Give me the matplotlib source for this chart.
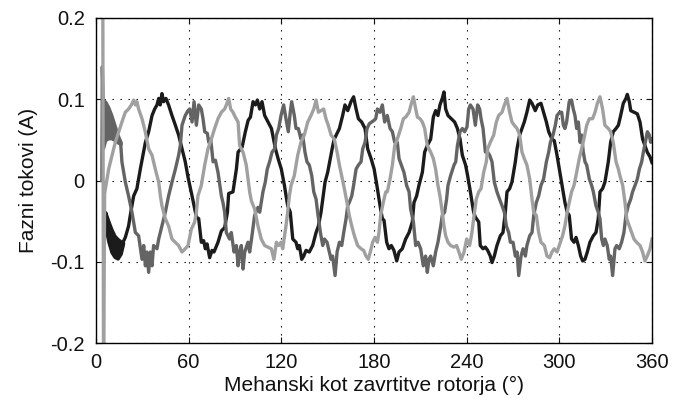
import matplotlib
matplotlib.use("Agg")
import matplotlib.pyplot as plt
import numpy as np

plt.rcParams["font.family"] = ["Liberation Sans", "DejaVu Sans"]

# phase currents (mechanical angle in degrees, current in A)
phase_black = [
    (17.5, -0.076), (19.0, -0.070), (21.1, -0.056), (22.9, -0.035), (24.4, -0.019), (26.5, -0.010),
    (28.7, 0.014), (29.8, 0.025), (32.0, 0.047), (34.1, 0.060), (36.3, 0.080), (38.0, 0.088),
    (39.5, 0.093), (40.6, 0.101), (41.6, 0.093), (42.7, 0.107), (43.8, 0.097), (45.3, 0.101),
    (47.0, 0.093), (49.2, 0.080), (51.4, 0.068), (53.5, 0.056), (55.7, 0.039), (57.8, 0.023),
    (59.6, 0.004), (62.2, -0.019), (65.0, -0.045), (66.5, -0.047), (68.2, -0.076), (69.7, -0.074),
    (70.8, -0.084), (71.9, -0.078), (73.6, -0.095), (75.1, -0.086), (76.4, -0.088), (79.0, -0.076),
    (81.2, -0.062), (83.3, -0.058), (85.1, -0.039), (85.9, -0.016), (88.7, -0.014), (90.9, 0.014),
    (92.0, 0.035), (94.6, 0.041), (96.7, 0.060), (98.5, 0.074), (100.0, 0.078), (101.7, 0.097),
    (103.2, 0.093), (104.5, 0.099), (106.0, 0.088), (107.5, 0.097), (109.2, 0.080), (111.4, 0.072),
    (113.6, 0.064), (116.2, 0.039), (117.9, 0.027), (120.0, 0.014), (122.0, -0.006), (124.1, -0.031),
    (125.8, -0.039), (127.4, -0.072), (129.5, -0.076), (130.6, -0.084), (131.7, -0.080), (133.2, -0.097),
    (134.5, -0.093), (136.0, -0.086), (138.1, -0.088), (140.3, -0.080), (142.5, -0.064), (144.0, -0.056),
    (145.7, -0.039), (146.8, -0.023), (148.3, -0.002), (150.0, 0.010), (151.7, 0.027), (153.3, 0.043),
    (154.3, 0.051), (156.1, 0.058), (157.6, 0.064), (159.7, 0.080), (161.2, 0.093), (163.0, 0.086),
    (165.1, 0.097), (166.8, 0.103), (168.4, 0.088), (169.9, 0.076), (172.0, 0.072), (174.2, 0.064),
    (175.9, 0.039), (178.1, 0.027), (180.1, 0.014), (182.2, -0.010), (183.9, -0.031), (185.4, -0.047),
    (186.5, -0.049), (188.2, -0.076), (189.7, -0.084), (191.2, -0.080), (192.9, -0.086), (194.7, -0.099),
    (196.2, -0.088), (198.3, -0.084), (200.5, -0.072), (202.7, -0.064), (204.8, -0.051), (205.9, -0.027),
    (207.6, -0.019), (209.1, -0.006), (211.3, 0.010), (212.8, 0.035), (214.5, 0.043), (216.7, 0.051),
    (218.4, 0.078), (219.9, 0.086), (221.4, 0.080), (222.7, 0.093), (224.2, 0.101), (225.3, 0.109),
    (226.4, 0.088), (227.9, 0.080), (230.1, 0.076), (232.2, 0.072), (234.0, 0.064), (235.7, 0.051),
    (237.2, 0.031), (239.3, 0.019), (240.6, 0.006), (242.4, -0.014), (244.5, -0.039), (245.6, -0.045),
    (247.8, -0.051), (248.8, -0.080), (250.6, -0.084), (252.1, -0.082), (253.6, -0.086), (255.3, -0.093),
    (256.4, -0.101), (257.9, -0.093), (259.6, -0.080), (261.8, -0.068), (263.5, -0.064), (265.0, -0.039),
    (266.1, -0.014), (267.8, -0.010), (269.3, -0.002), (271.5, 0.023), (272.6, 0.039), (274.3, 0.056),
    (275.8, 0.064), (277.3, 0.072), (279.0, 0.084), (280.8, 0.099), (282.3, 0.095), (284.4, 0.086),
    (286.0, 0.093), (288.1, 0.095), (289.8, 0.084), (291.6, 0.072), (293.1, 0.060), (295.2, 0.051),
    (296.7, 0.049), (298.5, 0.031), (300.5, 0.008), (302.1, -0.010), (303.6, -0.027), (305.1, -0.039),
    (306.4, -0.043), (307.9, -0.072), (309.5, -0.076), (310.8, -0.070), (312.3, -0.080), (313.8, -0.093),
    (315.1, -0.099), (316.6, -0.097), (318.1, -0.088), (319.8, -0.076), (322.0, -0.068), (323.7, -0.064),
    (325.2, -0.047), (326.3, -0.014), (328.0, -0.010), (329.5, -0.002), (331.7, 0.023), (333.2, 0.047),
    (334.9, 0.060), (336.7, 0.064), (338.2, 0.068), (339.7, 0.080), (341.4, 0.095), (343.1, 0.101),
    (344.0, 0.106), (345.3, 0.097), (346.2, 0.086), (348.3, 0.084), (350.5, 0.082), (352.2, 0.072),
    (353.9, 0.051), (355.4, 0.043), (356.9, 0.035), (358.7, 0.029), (360.0, 0.022),
]

phase_dark = [
    (3.8, 0.0), (4.1, 0.14), (4.6, 0.10),
    (16.0, 0.045), (16.8, 0.023), (19.0, -0.002), (21.1, -0.019), (23.3, -0.039), (25.5, -0.064),
    (27.6, -0.068), (29.8, -0.097), (30.9, -0.080), (32.0, -0.105), (33.0, -0.088), (34.1, -0.113),
    (35.2, -0.088), (36.3, -0.105), (37.3, -0.080), (39.5, -0.084), (40.6, -0.072), (42.7, -0.056),
    (44.9, -0.039), (47.0, -0.019), (49.2, -0.002), (51.4, 0.014), (53.5, 0.031), (54.6, 0.043),
    (55.7, 0.068), (57.8, 0.080), (59.6, 0.086), (60.7, 0.088), (62.2, 0.072), (63.5, 0.097),
    (65.0, 0.068), (66.5, 0.093), (68.2, 0.088), (69.3, 0.076), (70.4, 0.060), (72.1, 0.058),
    (73.0, 0.047), (74.3, 0.051), (75.8, 0.023), (77.3, 0.025), (79.0, 0.010), (81.2, -0.019),
    (82.2, -0.027), (83.3, -0.039), (84.4, -0.064), (86.5, -0.072), (87.6, -0.064), (89.4, -0.088),
    (90.9, -0.080), (92.0, -0.105), (93.0, -0.088), (94.1, -0.080), (95.2, -0.109), (96.3, -0.088),
    (98.4, -0.076), (99.5, -0.088), (101.0, -0.068), (102.7, -0.043), (104.9, -0.033), (106.0, -0.039),
    (108.1, -0.014), (109.6, -0.002), (110.9, 0.014), (112.4, 0.023), (114.0, 0.035), (115.7, 0.039),
    (116.8, 0.056), (118.3, 0.064), (119.8, 0.080), (121.5, 0.093), (123.0, 0.076), (124.5, 0.060),
    (125.8, 0.084), (126.7, 0.097), (128.4, 0.080), (129.5, 0.064), (131.0, 0.064), (132.7, 0.051),
    (133.8, 0.056), (135.3, 0.035), (136.6, 0.023), (138.1, 0.019), (139.7, 0.006), (141.0, -0.014),
    (142.5, -0.023), (143.5, -0.039), (145.3, -0.064), (146.8, -0.080), (147.9, -0.072), (149.6, -0.076),
    (151.1, -0.088), (152.2, -0.097), (153.2, -0.093), (154.8, -0.117), (156.1, -0.088), (157.6, -0.076),
    (159.1, -0.080), (160.4, -0.064), (161.9, -0.047), (163.0, -0.031), (164.0, -0.027), (165.6, -0.019),
    (166.8, -0.006), (168.4, 0.014), (169.9, 0.019), (171.6, 0.023), (172.7, 0.039), (174.2, 0.047),
    (175.5, 0.064), (177.0, 0.070), (178.5, 0.072), (180.0, 0.074), (181.1, 0.076), (182.2, 0.088),
    (183.9, 0.084), (185.4, 0.093), (186.9, 0.072), (188.6, 0.080), (190.4, 0.064), (191.9, 0.060),
    (193.4, 0.047), (195.1, 0.047), (196.2, 0.027), (197.7, 0.019), (199.4, 0.010), (201.1, -0.006),
    (202.7, -0.014), (203.7, -0.035), (205.5, -0.051), (207.0, -0.080), (208.5, -0.076), (210.2, -0.084),
    (211.9, -0.105), (213.4, -0.093), (214.5, -0.113), (215.6, -0.097), (216.7, -0.093), (218.4, -0.105),
    (219.9, -0.088), (221.4, -0.076), (223.2, -0.056), (224.2, -0.043), (225.7, -0.039), (227.0, -0.023),
    (227.9, -0.006), (229.6, 0.006), (231.8, 0.019), (232.9, 0.023), (234.0, 0.043), (235.7, 0.060),
    (237.2, 0.064), (238.7, 0.060), (240.2, 0.066), (241.3, 0.088), (242.4, 0.093), (244.1, 0.088),
    (245.6, 0.068), (247.1, 0.093), (248.4, 0.088), (249.3, 0.076), (250.6, 0.064), (252.1, 0.035),
    (253.6, 0.035), (254.9, 0.031), (256.4, 0.023), (257.9, -0.002), (259.6, -0.014), (261.3, -0.023),
    (262.9, -0.031), (264.4, -0.039), (265.7, -0.056), (267.2, -0.064), (268.3, -0.076), (270.0, -0.076),
    (271.5, -0.093), (272.6, -0.088), (273.7, -0.117), (275.2, -0.093), (276.5, -0.084), (278.0, -0.093),
    (279.0, -0.080), (280.8, -0.068), (282.3, -0.064), (283.4, -0.043), (285.1, -0.027), (286.6, -0.019),
    (288.1, -0.006), (289.8, 0.002), (291.6, 0.023), (293.1, 0.035), (294.2, 0.047), (295.9, 0.056),
    (297.4, 0.068), (298.5, 0.080), (300.2, 0.084), (301.5, 0.084), (302.6, 0.068), (303.6, 0.064),
    (304.7, 0.072), (306.4, 0.097), (307.9, 0.099), (309.0, 0.088), (310.1, 0.080), (311.2, 0.064),
    (312.3, 0.072), (313.4, 0.047), (314.4, 0.056), (315.5, 0.035), (316.6, 0.023), (317.7, 0.019),
    (319.4, 0.002), (320.9, -0.006), (322.0, -0.014), (323.7, -0.031), (325.2, -0.039), (326.3, -0.047),
    (327.4, -0.072), (328.5, -0.080), (329.5, -0.072), (331.0, -0.080), (332.3, -0.097), (333.2, -0.093),
    (334.5, -0.117), (336.0, -0.084), (337.1, -0.080), (338.8, -0.084), (340.3, -0.076), (341.8, -0.064),
    (343.1, -0.043), (344.6, -0.031), (346.2, -0.023), (347.4, -0.014), (349.0, -0.006), (350.5, 0.002),
    (351.8, 0.014), (353.3, 0.023), (354.4, 0.035), (356.1, 0.051), (357.0, 0.060), (358.2, 0.056),
    (359.1, 0.047), (360.0, 0.051),
]

phase_light = [
    (4.4, 0.25), (4.9, -0.25), (5.6, -0.016),
    (8.2, 0.014), (10.4, 0.031), (12.5, 0.047), (14.7, 0.060), (16.8, 0.072), (19.0, 0.084),
    (21.1, 0.088), (22.9, 0.093), (24.4, 0.099), (25.5, 0.093), (26.5, 0.097), (27.6, 0.088),
    (29.8, 0.076), (31.9, 0.060), (34.1, 0.039), (36.3, 0.031), (38.4, 0.014), (40.6, -0.002),
    (41.7, -0.019), (42.7, -0.031), (44.9, -0.047), (47.0, -0.056), (49.2, -0.072), (51.4, -0.076),
    (53.5, -0.080), (55.7, -0.088), (57.8, -0.084), (59.6, -0.080), (61.7, -0.060), (63.9, -0.051),
    (65.0, -0.039), (66.0, -0.019), (68.2, -0.006), (70.4, 0.019), (72.5, 0.039), (74.7, 0.051),
    (76.8, 0.064), (79.0, 0.076), (81.2, 0.084), (83.3, 0.088), (84.4, 0.093), (85.9, 0.101),
    (87.2, 0.088), (88.7, 0.084), (90.2, 0.078), (92.0, 0.072), (93.0, 0.043), (95.2, 0.035),
    (97.3, 0.019), (98.4, 0.002), (99.5, -0.014), (100.6, -0.025), (102.7, -0.035), (104.9, -0.056),
    (107.0, -0.072), (109.2, -0.080), (111.4, -0.082), (113.5, -0.084), (115.2, -0.097), (116.8, -0.076),
    (118.3, -0.080), (119.8, -0.076), (120.9, -0.084), (123.0, -0.056), (124.1, -0.039), (125.2, -0.019),
    (126.3, -0.006), (128.4, 0.006), (130.6, 0.031), (132.7, 0.047), (134.9, 0.056), (137.1, 0.072),
    (139.2, 0.080), (141.0, 0.088), (142.5, 0.099), (144.0, 0.084), (145.7, 0.086), (147.4, 0.088),
    (148.9, 0.076), (150.4, 0.068), (152.2, 0.056), (154.3, 0.051), (156.1, 0.035), (157.6, 0.019),
    (158.6, 0.010), (160.8, -0.010), (162.5, -0.027), (164.0, -0.043), (165.6, -0.056), (167.3, -0.068),
    (169.4, -0.080), (171.6, -0.084), (173.3, -0.086), (174.8, -0.093), (176.3, -0.097), (177.6, -0.088),
    (179.1, -0.076), (180.7, -0.070), (182.2, -0.076), (183.2, -0.064), (184.3, -0.043), (186.0, -0.027),
    (187.6, -0.014), (188.6, -0.014), (190.4, 0.002), (191.9, 0.019), (193.4, 0.043), (195.1, 0.051),
    (197.3, 0.064), (199.0, 0.076), (200.5, 0.078), (202.7, 0.084), (204.2, 0.095), (205.5, 0.103),
    (207.0, 0.088), (208.1, 0.078), (209.8, 0.076), (211.3, 0.072), (212.8, 0.064), (214.5, 0.043),
    (216.7, 0.035), (218.4, 0.027), (219.9, 0.014), (221.4, -0.006), (222.7, -0.019), (224.2, -0.039),
    (225.3, -0.056), (226.4, -0.068), (227.9, -0.076), (229.6, -0.080), (231.8, -0.082), (233.5, -0.080),
    (235.0, -0.088), (236.5, -0.097), (238.3, -0.088), (240.0, -0.072), (241.9, -0.080), (243.4, -0.064),
    (244.5, -0.047), (246.2, -0.023), (247.8, -0.014), (249.3, -0.010), (251.0, 0.010), (252.7, 0.023),
    (253.6, 0.039), (255.3, 0.047), (257.5, 0.056), (259.2, 0.072), (260.7, 0.080), (262.9, 0.084),
    (264.4, 0.093), (266.1, 0.101), (267.8, 0.084), (269.3, 0.072), (270.8, 0.068), (272.6, 0.064),
    (274.3, 0.056), (275.8, 0.035), (277.3, 0.027), (279.0, 0.019), (280.8, 0.002), (282.3, -0.023),
    (283.4, -0.039), (285.1, -0.043), (286.6, -0.064), (288.1, -0.076), (290.3, -0.080), (292.0, -0.093),
    (293.7, -0.095), (295.2, -0.088), (296.7, -0.084), (298.5, -0.088), (300.3, -0.078), (302.1, -0.068),
    (303.6, -0.056), (305.1, -0.039), (306.4, -0.027), (307.9, -0.014), (309.5, -0.006), (311.2, 0.010),
    (312.9, 0.027), (314.4, 0.039), (315.9, 0.051), (317.7, 0.068), (319.4, 0.076), (321.5, 0.076),
    (323.1, 0.084), (324.6, 0.095), (326.3, 0.103), (328.0, 0.088), (329.5, 0.068), (331.7, 0.064),
    (333.2, 0.060), (334.9, 0.047), (336.7, 0.023), (338.2, 0.014), (339.2, 0.006), (341.0, -0.006),
    (342.5, -0.027), (343.6, -0.047), (345.3, -0.056), (346.8, -0.064), (348.3, -0.072), (350.0, -0.076),
    (352.2, -0.080), (353.9, -0.088), (355.4, -0.099), (356.9, -0.093), (358.7, -0.084), (360.0, -0.072),
]

# start-up oscillation envelopes (too dense to show as single lines)
black_band_deg = [6.0, 8.0, 10.0, 12.0, 14.0, 16.0, 17.5]
black_band_hi = [-0.039, -0.050, -0.060, -0.068, -0.072, -0.075, -0.076]
black_band_lo = [-0.056, -0.075, -0.088, -0.094, -0.096, -0.090, -0.078]
dark_band_deg = [4.5, 6.0, 8.0, 10.0, 12.0, 14.0, 16.0]
dark_band_hi = [0.099, 0.097, 0.090, 0.080, 0.068, 0.056, 0.047]
dark_band_lo = [0.040, 0.050, 0.052, 0.052, 0.050, 0.047, 0.045]

x_ticks = [0, 60, 120, 180, 240, 300, 360]
y_ticks = [-0.2, -0.1, 0, 0.1, 0.2]
y_tick_labels = ["-0.2", "-0.1", "0", "0.1", "0.2"]

C_BLACK = "#1b1b1b"
C_DARK = "#646464"
C_LIGHT = "#a0a0a0"
LW = 2.4

fig = plt.figure(figsize=(6.74, 4.07), dpi=100)
ax = fig.add_axes([0.1424, 0.1572, 0.8250, 0.7986])

ax.fill_between(black_band_deg, black_band_lo, black_band_hi, color=C_BLACK, lw=LW, zorder=3)
ax.fill_between(dark_band_deg, dark_band_lo, dark_band_hi, color=C_DARK, lw=LW, zorder=3)

for pts, col in [(phase_black, C_BLACK), (phase_dark, C_DARK), (phase_light, C_LIGHT)]:
    deg = np.array([p[0] for p in pts])
    cur = np.array([p[1] for p in pts])
    ax.plot(deg, cur, color=col, lw=LW, solid_joinstyle="round", zorder=3)

ax.set_xlim(0, 360)
ax.set_ylim(-0.2, 0.2)
ax.set_xticks(x_ticks)
ax.set_yticks(y_ticks)
ax.set_yticklabels(y_tick_labels)
ax.grid(True, color="black", linestyle=(0, (1.2, 6)), linewidth=0.8)
ax.tick_params(direction="in", length=4, width=0.8, top=True, right=True,
               labelsize=14.5, colors="#111111")
ax.tick_params(axis="y", pad=8)
ax.tick_params(axis="x", pad=7)
for s in ax.spines.values():
    s.set_linewidth(1.0)
    s.set_color("black")
    s.set_zorder(5)

ax.set_xlabel("Mehanski kot zavrtitve rotorja (°)", fontsize=15, labelpad=3, color="#111111")
ax.set_ylabel("Fazni tokovi (A)", fontsize=15, labelpad=9, color="#111111")

fig.savefig("out.png", dpi=100)
